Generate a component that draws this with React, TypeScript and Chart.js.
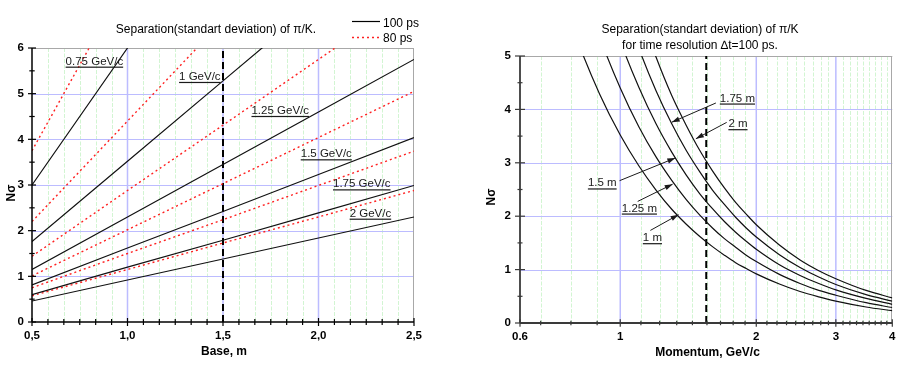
import React, { useEffect, useRef } from 'react';
import { Chart, registerables } from 'chart.js';

Chart.register(...registerables);

const FONT = 'Arial, "Liberation Sans", Helvetica, sans-serif';

// ---------------- Left chart: Nσ vs base ----------------
const BASE_M = [0.5, 1.0, 1.5, 2.0, 2.5];
const BASE_TICKS = [0.5, 1.0, 1.5, 2.0, 2.5];
const BASE_TICK_LABELS = ['0,5', '1,0', '1,5', '2,0', '2,5'];
const LEFT_Y_TICKS = [0, 1, 2, 3, 4, 5, 6];

// 100 ps
const NS100_P075 = [3.0, 6.0, 9.01, 12.01, 15.01];
const NS100_P100 = [1.76, 3.52, 5.28, 7.04, 8.8];
const NS100_P125 = [1.15, 2.3, 3.45, 4.6, 5.75];
const NS100_P150 = [0.81, 1.62, 2.42, 3.23, 4.04];
const NS100_P175 = [0.6, 1.2, 1.79, 2.39, 2.99];
const NS100_P200 = [0.46, 0.92, 1.38, 1.84, 2.3];
// 80 ps
const NS80_P075 = [3.75, 7.51, 11.26, 15.01, 18.77];
const NS80_P100 = [2.2, 4.4, 6.6, 8.8, 11.0];
const NS80_P125 = [1.44, 2.88, 4.31, 5.75, 7.19];
const NS80_P150 = [1.01, 2.02, 3.03, 4.04, 5.05];
const NS80_P175 = [0.75, 1.5, 2.24, 2.99, 3.74];
const NS80_P200 = [0.575, 1.15, 1.73, 2.3, 2.88];

const LEFT_MARKER_BASE = 1.5;

const LEFT_LABELS = [
  { text: '0.75 GeV/c', x: 0.676, y: 5.58 },
  { text: '1 GeV/c', x: 1.27, y: 5.245 },
  { text: '1.25 GeV/c', x: 1.649, y: 4.5 },
  { text: '1.5 GeV/c', x: 1.907, y: 3.551 },
  { text: '1.75 GeV/c', x: 2.076, y: 2.893 },
  { text: '2 GeV/c', x: 2.163, y: 2.251 },
];

// ---------------- Right chart: Nσ vs momentum ----------------
const MOMENTUM = [0.6, 0.7, 0.8, 0.9, 1.0, 1.1, 1.2, 1.3, 1.4, 1.5, 1.6, 1.7, 1.8, 1.9, 2.0, 2.25, 2.5, 2.75, 3.0, 3.5, 4.0];
const NS_L100 = [8.95, 6.8, 5.34, 4.29, 3.52, 2.94, 2.49, 2.13, 1.85, 1.62, 1.43, 1.27, 1.13, 1.02, 0.92, 0.73, 0.59, 0.49, 0.41, 0.3, 0.23];
const NS_L125 = [11.19, 8.51, 6.67, 5.36, 4.4, 3.67, 3.11, 2.67, 2.31, 2.02, 1.78, 1.58, 1.42, 1.27, 1.15, 0.91, 0.74, 0.61, 0.52, 0.38, 0.29];
const NS_L150 = [13.42, 10.21, 8.0, 6.44, 5.28, 4.41, 3.73, 3.2, 2.77, 2.42, 2.14, 1.9, 1.7, 1.53, 1.38, 1.09, 0.89, 0.74, 0.62, 0.46, 0.35];
const NS_L175 = [15.66, 11.91, 9.34, 7.51, 6.16, 5.14, 4.35, 3.73, 3.23, 2.83, 2.49, 2.22, 1.98, 1.78, 1.61, 1.28, 1.04, 0.86, 0.72, 0.53, 0.41];
const NS_L200 = [17.9, 13.61, 10.67, 8.58, 7.04, 5.88, 4.98, 4.26, 3.7, 3.23, 2.85, 2.53, 2.26, 2.04, 1.84, 1.46, 1.18, 0.98, 0.83, 0.61, 0.47];

const MOMENTUM_TICKS = [0.6, 1, 2, 3, 4];
const MOMENTUM_TICK_LABELS = ['0.6', '1', '2', '3', '4'];
const RIGHT_Y_TICKS = [0, 1, 2, 3, 4, 5];
const RIGHT_MARKER_P = 1.55;

const RIGHT_LABELS = [
  { text: '1.75 m', x: 1.661, y: 4.1, tail: [1.628, 4.12], tip: [1.3, 3.76] },
  { text: '2 m', x: 1.735, y: 3.62, tail: [1.72, 3.757], tip: [1.47, 3.45] },
  { text: '1.5 m', x: 0.848, y: 2.51, tail: [0.9965, 2.665], tip: [1.324, 3.09] },
  { text: '1.25 m', x: 1.008, y: 2.04, tail: [1.093, 2.277], tip: [1.306, 2.6] },
  { text: '1 m', x: 1.122, y: 1.485, tail: [1.166, 1.734], tip: [1.346, 2.028] },
];

// ---------------- helpers ----------------
const pts = (xs: number[], ys: number[]) => xs.map((x, i) => ({ x, y: ys[i] }));

function line(ctx: CanvasRenderingContext2D, x1: number, y1: number, x2: number, y2: number) {
  ctx.beginPath();
  ctx.moveTo(x1, y1);
  ctx.lineTo(x2, y2);
  ctx.stroke();
}

function drawUnderlined(ctx: CanvasRenderingContext2D, text: string, px: number, py: number) {
  ctx.textAlign = 'left';
  ctx.textBaseline = 'alphabetic';
  ctx.fillText(text, px, py - 2.5);
  const w = ctx.measureText(text).width;
  ctx.fillRect(px, py - 0.6, w, 1.2);
}

function drawArrow(ctx: CanvasRenderingContext2D, x1: number, y1: number, x2: number, y2: number) {
  line(ctx, x1, y1, x2, y2);
  const ang = Math.atan2(y2 - y1, x2 - x1);
  const len = 8;
  const half = 2.6;
  ctx.beginPath();
  ctx.moveTo(x2, y2);
  ctx.lineTo(x2 - len * Math.cos(ang) + half * Math.sin(ang), y2 - len * Math.sin(ang) - half * Math.cos(ang));
  ctx.lineTo(x2 - len * Math.cos(ang) - half * Math.sin(ang), y2 - len * Math.sin(ang) + half * Math.cos(ang));
  ctx.closePath();
  ctx.fill();
}

type DecorCfg = {
  xMinor: number[];
  xMajorGrid: number[];
  xMajorTicks: number[];
  yMajorGrid: number[];
  yMajorTicks: number[];
  yMinorTicks: number[];
  axisColor: string;
  axisWidth: number;
  xTickMajor: number;
  xTickMinor: number;
  yTickMajor: number;
  yTickMinor: number;
  texts: { text: string; x: number; y: number; font: string; align: CanvasTextAlign; rotate?: boolean }[];
  legend?: boolean;
  labels?: { text: string; x: number; y: number; tail?: number[]; tip?: number[] }[];
};

const MINOR_GRID = '#d2f5d2';
const MAJOR_GRID = '#bcbcff';
const BORDER_GRAY = '#a8a8a8';

function decorPlugin(cfg: DecorCfg) {
  return {
    id: 'decor',
    beforeDatasetsDraw(chart: any) {
      const { ctx, chartArea: a, scales } = chart;
      const x = scales.x;
      const y = scales.y;
      ctx.save();
      ctx.lineWidth = 1;
      ctx.strokeStyle = MINOR_GRID;
      ctx.setLineDash([4, 1.5]);
      for (const v of cfg.xMinor) {
        const px = Math.round(x.getPixelForValue(v)) + 0.5;
        line(ctx, px, a.top, px, a.bottom);
      }
      ctx.setLineDash([]);
      ctx.strokeStyle = MAJOR_GRID;
      ctx.lineWidth = 1.5;
      for (const v of cfg.xMajorGrid) {
        const px = x.getPixelForValue(v);
        line(ctx, px, a.top, px, a.bottom);
      }
      ctx.lineWidth = 1;
      for (const v of cfg.yMajorGrid) {
        const py = Math.round(y.getPixelForValue(v)) + 0.5;
        line(ctx, a.left, py, a.right, py);
      }
      ctx.strokeStyle = BORDER_GRAY;
      line(ctx, a.left, Math.round(a.top) + 0.5, a.right, Math.round(a.top) + 0.5);
      line(ctx, Math.round(a.right) - 0.5, a.top, Math.round(a.right) - 0.5, a.bottom);
      ctx.restore();
    },
    afterDatasetsDraw(chart: any) {
      const { ctx, chartArea: a, scales } = chart;
      const x = scales.x;
      const y = scales.y;
      ctx.save();
      // axes
      ctx.strokeStyle = cfg.axisColor;
      ctx.lineWidth = cfg.axisWidth;
      line(ctx, a.left, a.top, a.left, a.bottom);
      line(ctx, a.left, a.bottom, a.right, a.bottom);
      ctx.lineWidth = 1.2;
      for (const v of cfg.xMinor) {
        const px = x.getPixelForValue(v);
        line(ctx, px, a.bottom - cfg.xTickMinor, px, a.bottom + cfg.xTickMinor);
      }
      for (const v of cfg.xMajorTicks) {
        const px = x.getPixelForValue(v);
        line(ctx, px, a.bottom - cfg.xTickMajor, px, a.bottom + cfg.xTickMajor);
      }
      for (const v of cfg.yMinorTicks) {
        const py = y.getPixelForValue(v);
        line(ctx, a.left - cfg.yTickMinor, py, a.left + cfg.yTickMinor, py);
      }
      for (const v of cfg.yMajorTicks) {
        const py = y.getPixelForValue(v);
        line(ctx, a.left - cfg.yTickMajor, py, a.left + cfg.yTickMajor, py);
      }
      // labels with underline (and arrows)
      ctx.fillStyle = '#1a1a1a';
      ctx.strokeStyle = '#1a1a1a';
      ctx.lineWidth = 1;
      ctx.font = `11.5px ${FONT}`;
      for (const l of cfg.labels || []) {
        drawUnderlined(ctx, l.text, x.getPixelForValue(l.x), y.getPixelForValue(l.y));
        if (l.tail && l.tip) {
          drawArrow(
            ctx,
            x.getPixelForValue(l.tail[0]),
            y.getPixelForValue(l.tail[1]),
            x.getPixelForValue(l.tip[0]),
            y.getPixelForValue(l.tip[1])
          );
        }
      }
      // texts
      ctx.fillStyle = '#000';
      for (const t of cfg.texts) {
        ctx.font = t.font;
        ctx.textAlign = t.align;
        if (t.rotate) {
          ctx.save();
          ctx.translate(t.x, t.y);
          ctx.rotate(-Math.PI / 2);
          ctx.textBaseline = 'middle';
          ctx.fillText(t.text, 0, 0);
          ctx.restore();
        } else {
          ctx.textBaseline = 'alphabetic';
          ctx.fillText(t.text, t.x, t.y);
        }
      }
      if (cfg.legend) {
        ctx.lineWidth = 1.2;
        ctx.strokeStyle = '#000';
        line(ctx, 352, 21.5, 380, 21.5);
        ctx.strokeStyle = '#ff2020';
        ctx.lineWidth = 1.4;
        ctx.setLineDash([2, 3]);
        line(ctx, 352, 37.5, 380, 37.5);
        ctx.setLineDash([]);
        ctx.font = `12px ${FONT}`;
        ctx.textAlign = 'left';
        ctx.fillStyle = '#000';
        ctx.fillText('100 ps', 383, 27);
        ctx.fillText('80 ps', 383, 41.5);
      }
      ctx.restore();
    },
  };
}

const tickFont = { family: FONT, size: 11.5, weight: 'bold' as const, lineHeight: 1.2 };

function solid(data: number[], xs: number[]) {
  return {
    data: pts(xs, data),
    borderColor: '#111',
    borderWidth: 1.2,
    pointRadius: 0,
    showLine: true,
    fill: false,
    tension: 0,
  };
}
function dotted(data: number[], xs: number[]) {
  return {
    data: pts(xs, data),
    borderColor: '#ff2020',
    borderWidth: 1.4,
    borderDash: [2, 3],
    pointRadius: 0,
    showLine: true,
    fill: false,
    tension: 0,
  };
}

function leftConfig(): any {
  const xMinor: number[] = [];
  for (let k = 1; k < 24; k++) if (k % 6 !== 0) xMinor.push(0.5 + k / 12);
  const yMinor: number[] = [];
  for (let v = 0.5; v < 6; v += 1) yMinor.push(v);
  return {
    type: 'scatter',
    data: {
      datasets: [
        solid(NS100_P075, BASE_M),
        solid(NS100_P100, BASE_M),
        solid(NS100_P125, BASE_M),
        solid(NS100_P150, BASE_M),
        solid(NS100_P175, BASE_M),
        solid(NS100_P200, BASE_M),
        dotted(NS80_P075, BASE_M),
        dotted(NS80_P100, BASE_M),
        dotted(NS80_P125, BASE_M),
        dotted(NS80_P150, BASE_M),
        dotted(NS80_P175, BASE_M),
        dotted(NS80_P200, BASE_M),
        {
          data: [
            { x: LEFT_MARKER_BASE, y: 0 },
            { x: LEFT_MARKER_BASE, y: 6 },
          ],
          borderColor: '#000',
          borderWidth: 2,
          borderDash: [7, 4],
          pointRadius: 0,
          showLine: true,
        },
      ],
    },
    options: {
      responsive: false,
      animation: false,
      devicePixelRatio: 1,
      layout: { padding: { top: 48, left: 0, right: 36, bottom: 0 } },
      plugins: { legend: { display: false }, tooltip: { enabled: false }, title: { display: false } },
      scales: {
        x: {
          type: 'linear',
          min: 0.5,
          max: 2.5,
          afterBuildTicks: (s: any) => {
            s.ticks = BASE_TICKS.map((v) => ({ value: v }));
          },
          afterFit: (s: any) => {
            s.height = 55;
          },
          grid: { display: false, drawTicks: false },
          border: { display: false },
          ticks: {
            autoSkip: false,
            maxRotation: 0,
            padding: 7,
            color: '#000',
            font: tickFont,
            callback: (v: number) => BASE_TICK_LABELS[BASE_TICKS.indexOf(v)] ?? '',
          },
        },
        y: {
          type: 'linear',
          min: 0,
          max: 6,
          afterBuildTicks: (s: any) => {
            s.ticks = LEFT_Y_TICKS.map((v) => ({ value: v }));
          },
          afterFit: (s: any) => {
            s.width = 32;
          },
          grid: { display: false, drawTicks: false },
          border: { display: false },
          ticks: { padding: 8, color: '#000', font: tickFont, callback: (v: number) => String(v) },
        },
      },
    },
    plugins: [
      decorPlugin({
        xMinor,
        xMajorGrid: [1.0, 1.5, 2.0],
        xMajorTicks: BASE_TICKS,
        yMajorGrid: [1, 2, 3, 4, 5],
        yMajorTicks: LEFT_Y_TICKS,
        yMinorTicks: yMinor,
        axisColor: '#000',
        axisWidth: 1.5,
        xTickMajor: 4,
        xTickMinor: 3,
        yTickMajor: 4,
        yTickMinor: 2.7,
        legend: true,
        labels: LEFT_LABELS,
        texts: [
          { text: 'Separation(standart deviation) of π/K.', x: 216, y: 33, font: `12px ${FONT}`, align: 'center' },
          { text: 'Base, m', x: 224, y: 355, font: `bold 12px ${FONT}`, align: 'center' },
          { text: 'Nσ', x: 11.5, y: 193, font: `bold 12px ${FONT}`, align: 'center', rotate: true },
        ],
      }),
    ],
  };
}

function rightConfig(): any {
  const xMinor: number[] = [];
  for (let n = 0; n < 4; n++)
    for (let k = 1; k < 9; k++) {
      const v = n + k / 9;
      if (v > 0.6 && v < 4) xMinor.push(v);
    }
  const yMinor: number[] = [];
  for (let v = 0.5; v < 5; v += 1) yMinor.push(v);
  const curve = (data: number[]) => ({
    data: pts(MOMENTUM, data),
    borderColor: '#111',
    borderWidth: 1.2,
    pointRadius: 0,
    showLine: true,
    fill: false,
    cubicInterpolationMode: 'monotone',
  });
  return {
    type: 'scatter',
    data: {
      datasets: [
        curve(NS_L100),
        curve(NS_L125),
        curve(NS_L150),
        curve(NS_L175),
        curve(NS_L200),
        {
          data: [
            { x: RIGHT_MARKER_P, y: 0 },
            { x: RIGHT_MARKER_P, y: 5 },
          ],
          borderColor: '#000',
          borderWidth: 2,
          borderDash: [7, 4],
          pointRadius: 0,
          showLine: true,
        },
      ],
    },
    options: {
      responsive: false,
      animation: false,
      devicePixelRatio: 1,
      layout: { padding: { top: 56, left: 0, right: 7, bottom: 0 } },
      plugins: { legend: { display: false }, tooltip: { enabled: false }, title: { display: false } },
      scales: {
        x: {
          type: 'logarithmic',
          min: 0.6,
          max: 4,
          afterBuildTicks: (s: any) => {
            s.ticks = MOMENTUM_TICKS.map((v) => ({ value: v }));
          },
          afterFit: (s: any) => {
            s.height = 54;
          },
          grid: { display: false, drawTicks: false },
          border: { display: false },
          ticks: {
            autoSkip: false,
            maxRotation: 0,
            padding: 6.5,
            color: '#000',
            font: tickFont,
            callback: (v: number) => MOMENTUM_TICK_LABELS[MOMENTUM_TICKS.indexOf(v)] ?? '',
          },
        },
        y: {
          type: 'linear',
          min: 0,
          max: 5,
          afterBuildTicks: (s: any) => {
            s.ticks = RIGHT_Y_TICKS.map((v) => ({ value: v }));
          },
          afterFit: (s: any) => {
            s.width = 70;
          },
          grid: { display: false, drawTicks: false },
          border: { display: false },
          ticks: { padding: 9, color: '#000', font: tickFont, callback: (v: number) => String(v) },
        },
      },
    },
    plugins: [
      decorPlugin({
        xMinor,
        xMajorGrid: [1, 2, 3],
        xMajorTicks: MOMENTUM_TICKS,
        yMajorGrid: [1, 2, 3, 4],
        yMajorTicks: RIGHT_Y_TICKS,
        yMinorTicks: yMinor,
        axisColor: '#3a3a3a',
        axisWidth: 1.8,
        xTickMajor: 3.7,
        xTickMinor: 2.2,
        yTickMajor: 5,
        yTickMinor: 2.5,
        labels: RIGHT_LABELS,
        texts: [
          { text: 'Separation(standart deviation) of π/K', x: 250, y: 33.3, font: `12px ${FONT}`, align: 'center' },
          { text: 'for time resolution ∆t=100 ps.', x: 250, y: 49, font: `12px ${FONT}`, align: 'center' },
          { text: 'Momentum, GeV/c', x: 257.5, y: 355.7, font: `bold 12px ${FONT}`, align: 'center' },
          { text: 'Nσ', x: 41.7, y: 197, font: `bold 12px ${FONT}`, align: 'center', rotate: true },
        ],
      }),
    ],
  };
}

function ChartCanvas({ make, width, left }: { make: () => any; width: number; left: number }) {
  const ref = useRef<HTMLCanvasElement>(null);
  useEffect(() => {
    const chart = new Chart(ref.current as HTMLCanvasElement, make());
    return () => chart.destroy();
  }, [make]);
  return (
    <canvas
      ref={ref}
      width={width}
      height={377}
      style={{ position: 'absolute', left, top: 0, width, height: 377 }}
    />
  );
}

export default function App() {
  return (
    <div style={{ position: 'fixed', left: 0, top: 0, width: 902, height: 377, background: '#fff', overflow: 'hidden' }}>
      <ChartCanvas make={leftConfig} width={450} left={0} />
      <ChartCanvas make={rightConfig} width={452} left={450} />
    </div>
  );
}
